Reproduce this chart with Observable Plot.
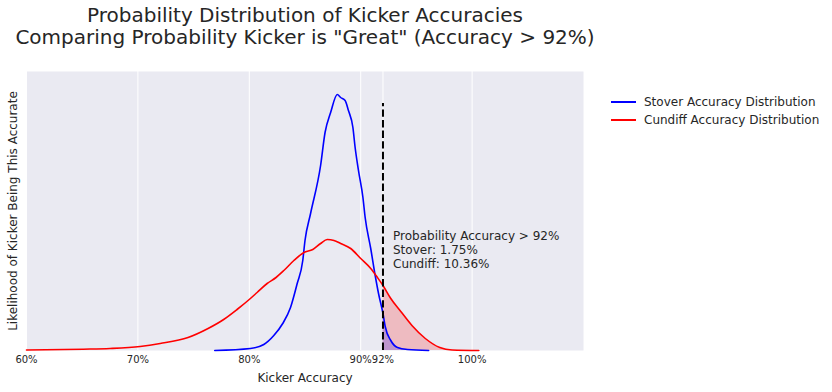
<!DOCTYPE html>
<html>
<head>
<meta charset="utf-8">
<script src="https://cdn.jsdelivr.net/npm/d3@7"></script>
<script src="https://cdn.jsdelivr.net/npm/@observablehq/plot@0.6"></script>
<style>
  body { margin: 0; background: #fff; font-family: "DejaVu Sans", sans-serif; }
  #wrap { position: relative; width: 832px; height: 392px; }
  .legend { position: absolute; left: 611px; top: 93px; font-size: 12px; color: #262626; }
  .legend div { display: flex; align-items: center; height: 18px; }
  .legend span.sw { display: inline-block; width: 25px; height: 0; border-top: 2px solid; margin-right: 8px; }
</style>
</head>
<body>
<div id="wrap"></div>
<script>
// Kicker accuracy (fraction) and estimated density (arbitrary units)
const stoverAcc = [0.769,0.801,0.813,0.822,0.830,0.837,0.843,0.848,0.850,0.855,0.864,0.868,0.873,0.879,0.882,0.886,0.889,0.893,0.895,0.898,0.902,0.904,0.909,0.913,0.916,0.920,0.922,0.927,0.933,0.942,0.961];
const stoverDen = [0.0,0.2,0.6,1.5,2.7,4.3,6.7,9.0,11.0,13.7,18.5,21.8,23.8,25.6,25.3,25.0,24.0,22.3,20.3,18.0,15.3,13.3,10.2,7.5,5.7,3.7,2.4,1.0,0.3,0.1,0.0];
const cundiffAcc = [0.600,0.651,0.675,0.702,0.720,0.745,0.763,0.777,0.789,0.801,0.807,0.816,0.824,0.831,0.840,0.849,0.857,0.864,0.870,0.876,0.882,0.891,0.900,0.909,0.915,0.920,0.927,0.936,0.946,0.958,0.971,0.982,1.006];
const cundiffDen = [0.05,0.13,0.2,0.4,0.7,1.3,2.2,3.1,4.1,5.2,5.8,6.7,7.3,8.0,9.0,9.8,10.1,10.7,11.1,11.0,10.7,10.2,9.2,8.2,7.3,6.5,5.2,3.9,2.5,1.2,0.3,0.05,0.0];
const threshold = 0.92;
const cutoffLineTop = 24.7;
const tickValues = [0.6, 0.7, 0.8, 0.9, 0.92, 1.0];
const titleText = "Probability Distribution of Kicker Accuracies\nComparing Probability Kicker is \"Great\" (Accuracy > 92%)";
const xLabel = "Kicker Accuracy";
const yLabel = "Likelihood of Kicker Being This Accurate";
const annotation = "Probability Accuracy > 92%\nStover: 1.75%\nCundiff: 10.36%";
const annotationPos = {x: 0.929, y: 10.1};
const seriesNames = ["Stover Accuracy Distribution", "Cundiff Accuracy Distribution"];
const seriesColors = ["blue", "red"];

const stover = stoverAcc.map((a, i) => ({acc: a, den: stoverDen[i]}));
const cundiff = cundiffAcc.map((a, i) => ({acc: a, den: cundiffDen[i]}));

const chart = Plot.plot({
  width: 832,
  height: 392,
  marginLeft: 26,
  marginRight: 249,
  marginTop: 71,
  marginBottom: 42,
  style: {fontFamily: "DejaVu Sans", color: "#262626", background: "transparent"},
  x: {domain: [0.6, 1.1]},
  y: {domain: [0, 27.9]},
  marks: [
    Plot.frame({fill: "#EAEAF2", stroke: null}),
    Plot.ruleX(tickValues, {stroke: "white", strokeWidth: 1}),
    Plot.axisX(tickValues, {tickSize: 0, tickPadding: 5, fontSize: 10, tickFormat: d => Math.round(d * 100) + "%", label: null}),
    Plot.axisY([], {label: null}),
    Plot.areaY(cundiff.filter(d => d.acc >= threshold), {x: "acc", y: "den", fill: "red", fillOpacity: 0.2, curve: "monotone-x"}),
    Plot.areaY(stover.filter(d => d.acc >= threshold), {x: "acc", y: "den", fill: "blue", fillOpacity: 0.2, curve: "monotone-x"}),
    Plot.line(stover, {x: "acc", y: "den", stroke: seriesColors[0], strokeWidth: 1.6, curve: "monotone-x"}),
    Plot.line(cundiff, {x: "acc", y: "den", stroke: seriesColors[1], strokeWidth: 1.6, curve: "monotone-x"}),
    Plot.ruleX([threshold], {y1: 0, y2: cutoffLineTop, stroke: "black", strokeWidth: 2, strokeDasharray: "7.4,3.2"}),
    Plot.text([annotation], {x: annotationPos.x, y: annotationPos.y, text: d => d, textAnchor: "start", lineAnchor: "middle", lineHeight: 1.17, fontSize: 12, fill: "#262626"}),
    Plot.text([titleText], {frameAnchor: "top", text: d => d, lineAnchor: "middle", dy: -46, fontSize: 20, lineHeight: 1.1, fill: "#262626"}),
    Plot.text([xLabel], {frameAnchor: "bottom", text: d => d, lineAnchor: "middle", dy: 28, fontSize: 12, fill: "#262626"}),
    Plot.text([yLabel], {frameAnchor: "left", text: d => d, textAnchor: "middle", lineAnchor: "middle", rotate: -90, dx: -13, fontSize: 12, fill: "#262626"})
  ]
});

const wrap = document.getElementById("wrap");
wrap.appendChild(chart);
const legend = document.createElement("div");
legend.className = "legend";
seriesNames.forEach((name, i) => {
  const row = document.createElement("div");
  const sw = document.createElement("span");
  sw.className = "sw";
  sw.style.borderTopColor = seriesColors[i];
  row.appendChild(sw);
  row.appendChild(document.createTextNode(name));
  legend.appendChild(row);
});
wrap.appendChild(legend);
</script>
</body>
</html>
